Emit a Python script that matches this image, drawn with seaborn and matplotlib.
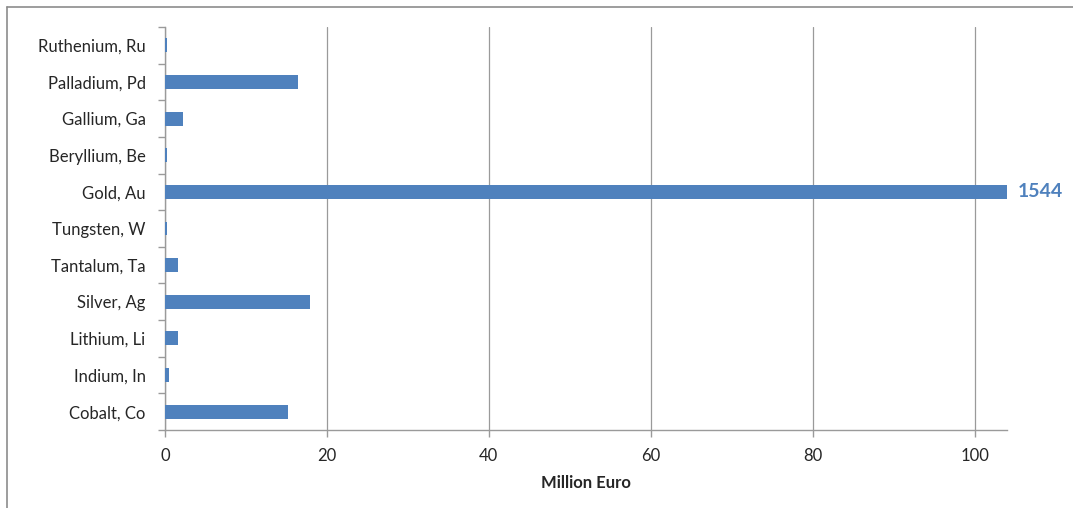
import matplotlib
matplotlib.use("Agg")
import matplotlib.pyplot as plt
from matplotlib.lines import Line2D
import seaborn as sns
import pandas as pd

# Metal contents, listed top to bottom
metals = ["Ruthenium, Ru", "Palladium, Pd", "Gallium, Ga", "Beryllium, Be",
          "Gold, Au", "Tungsten, W", "Tantalum, Ta", "Silver, Ag",
          "Lithium, Li", "Indium, In", "Cobalt, Co"]
values = [0.2, 16.4, 2.2, 0.2, 1544, 0.3, 1.6, 17.9, 1.6, 0.5, 15.2]
x_ticks = [0, 20, 40, 60, 80, 100]
x_max = 104
highlight = "Gold, Au"

sns.set_theme(style="white")
plt.rcParams["font.family"] = ["Lato", "DejaVu Sans"]

bar_color = "#4F81BD"
grid_color = "#9A9A9A"
text_color = "#262626"

df = pd.DataFrame({"metal": metals, "value": values})

fig = plt.figure(figsize=(10.73, 5.08), dpi=100)
ax = fig.add_axes([165 / 1073, 1 - 430 / 508, (1007 - 165) / 1073, (430 - 27) / 508])

sns.barplot(data=df, x="value", y="metal", orient="h", color=bar_color,
            saturation=1, width=0.38, linewidth=0, ax=ax, zorder=3)

ax.set_xlim(0, x_max)
ax.set_ylim(len(metals) - 0.5, -0.5)
ax.set_xticks(x_ticks)
ax.set_xticklabels([str(t) for t in x_ticks])
ax.xaxis.grid(True, color=grid_color, linewidth=0.9)
ax.set_axisbelow(True)

for side in ("top", "right"):
    ax.spines[side].set_visible(False)
for side in ("left", "bottom"):
    ax.spines[side].set_color(grid_color)
    ax.spines[side].set_linewidth(1)

# y tick marks sit between categories
ax.set_yticks([i - 0.5 for i in range(len(metals) + 1)], minor=True)
ax.tick_params(axis="y", which="major", length=0, pad=14, labelsize=12,
               labelcolor=text_color)
ax.tick_params(axis="y", which="minor", length=5, color=grid_color, width=1,
               direction="out", left=True)
ax.tick_params(axis="x", which="major", length=5, color=grid_color, width=1,
               direction="out", bottom=True, pad=8, labelsize=12,
               labelcolor=text_color)

ax.set_ylabel("")
ax.set_xlabel("Million Euro", fontsize=12, fontweight="bold",
              color=text_color, labelpad=8)

# value label for the bar that runs past the axis
gi = metals.index(highlight)
gv = values[gi]
ax.annotate(f"{gv:g}", xy=(x_max, gi), xycoords="data",
            xytext=(8, 0), textcoords="offset points",
            ha="left", va="center", fontsize=14, fontweight="bold",
            color=bar_color, annotation_clip=False)

# chart-area frame (top and left edges)
fig.add_artist(Line2D([7 / 1073, 1.0], [1 - 7 / 508, 1 - 7 / 508],
                      transform=fig.transFigure, color="#8C8C8C", linewidth=1.2))
fig.add_artist(Line2D([7 / 1073, 7 / 1073], [0.0, 1 - 7 / 508],
                      transform=fig.transFigure, color="#8C8C8C", linewidth=1.2))

fig.savefig("out.png", dpi=100)
